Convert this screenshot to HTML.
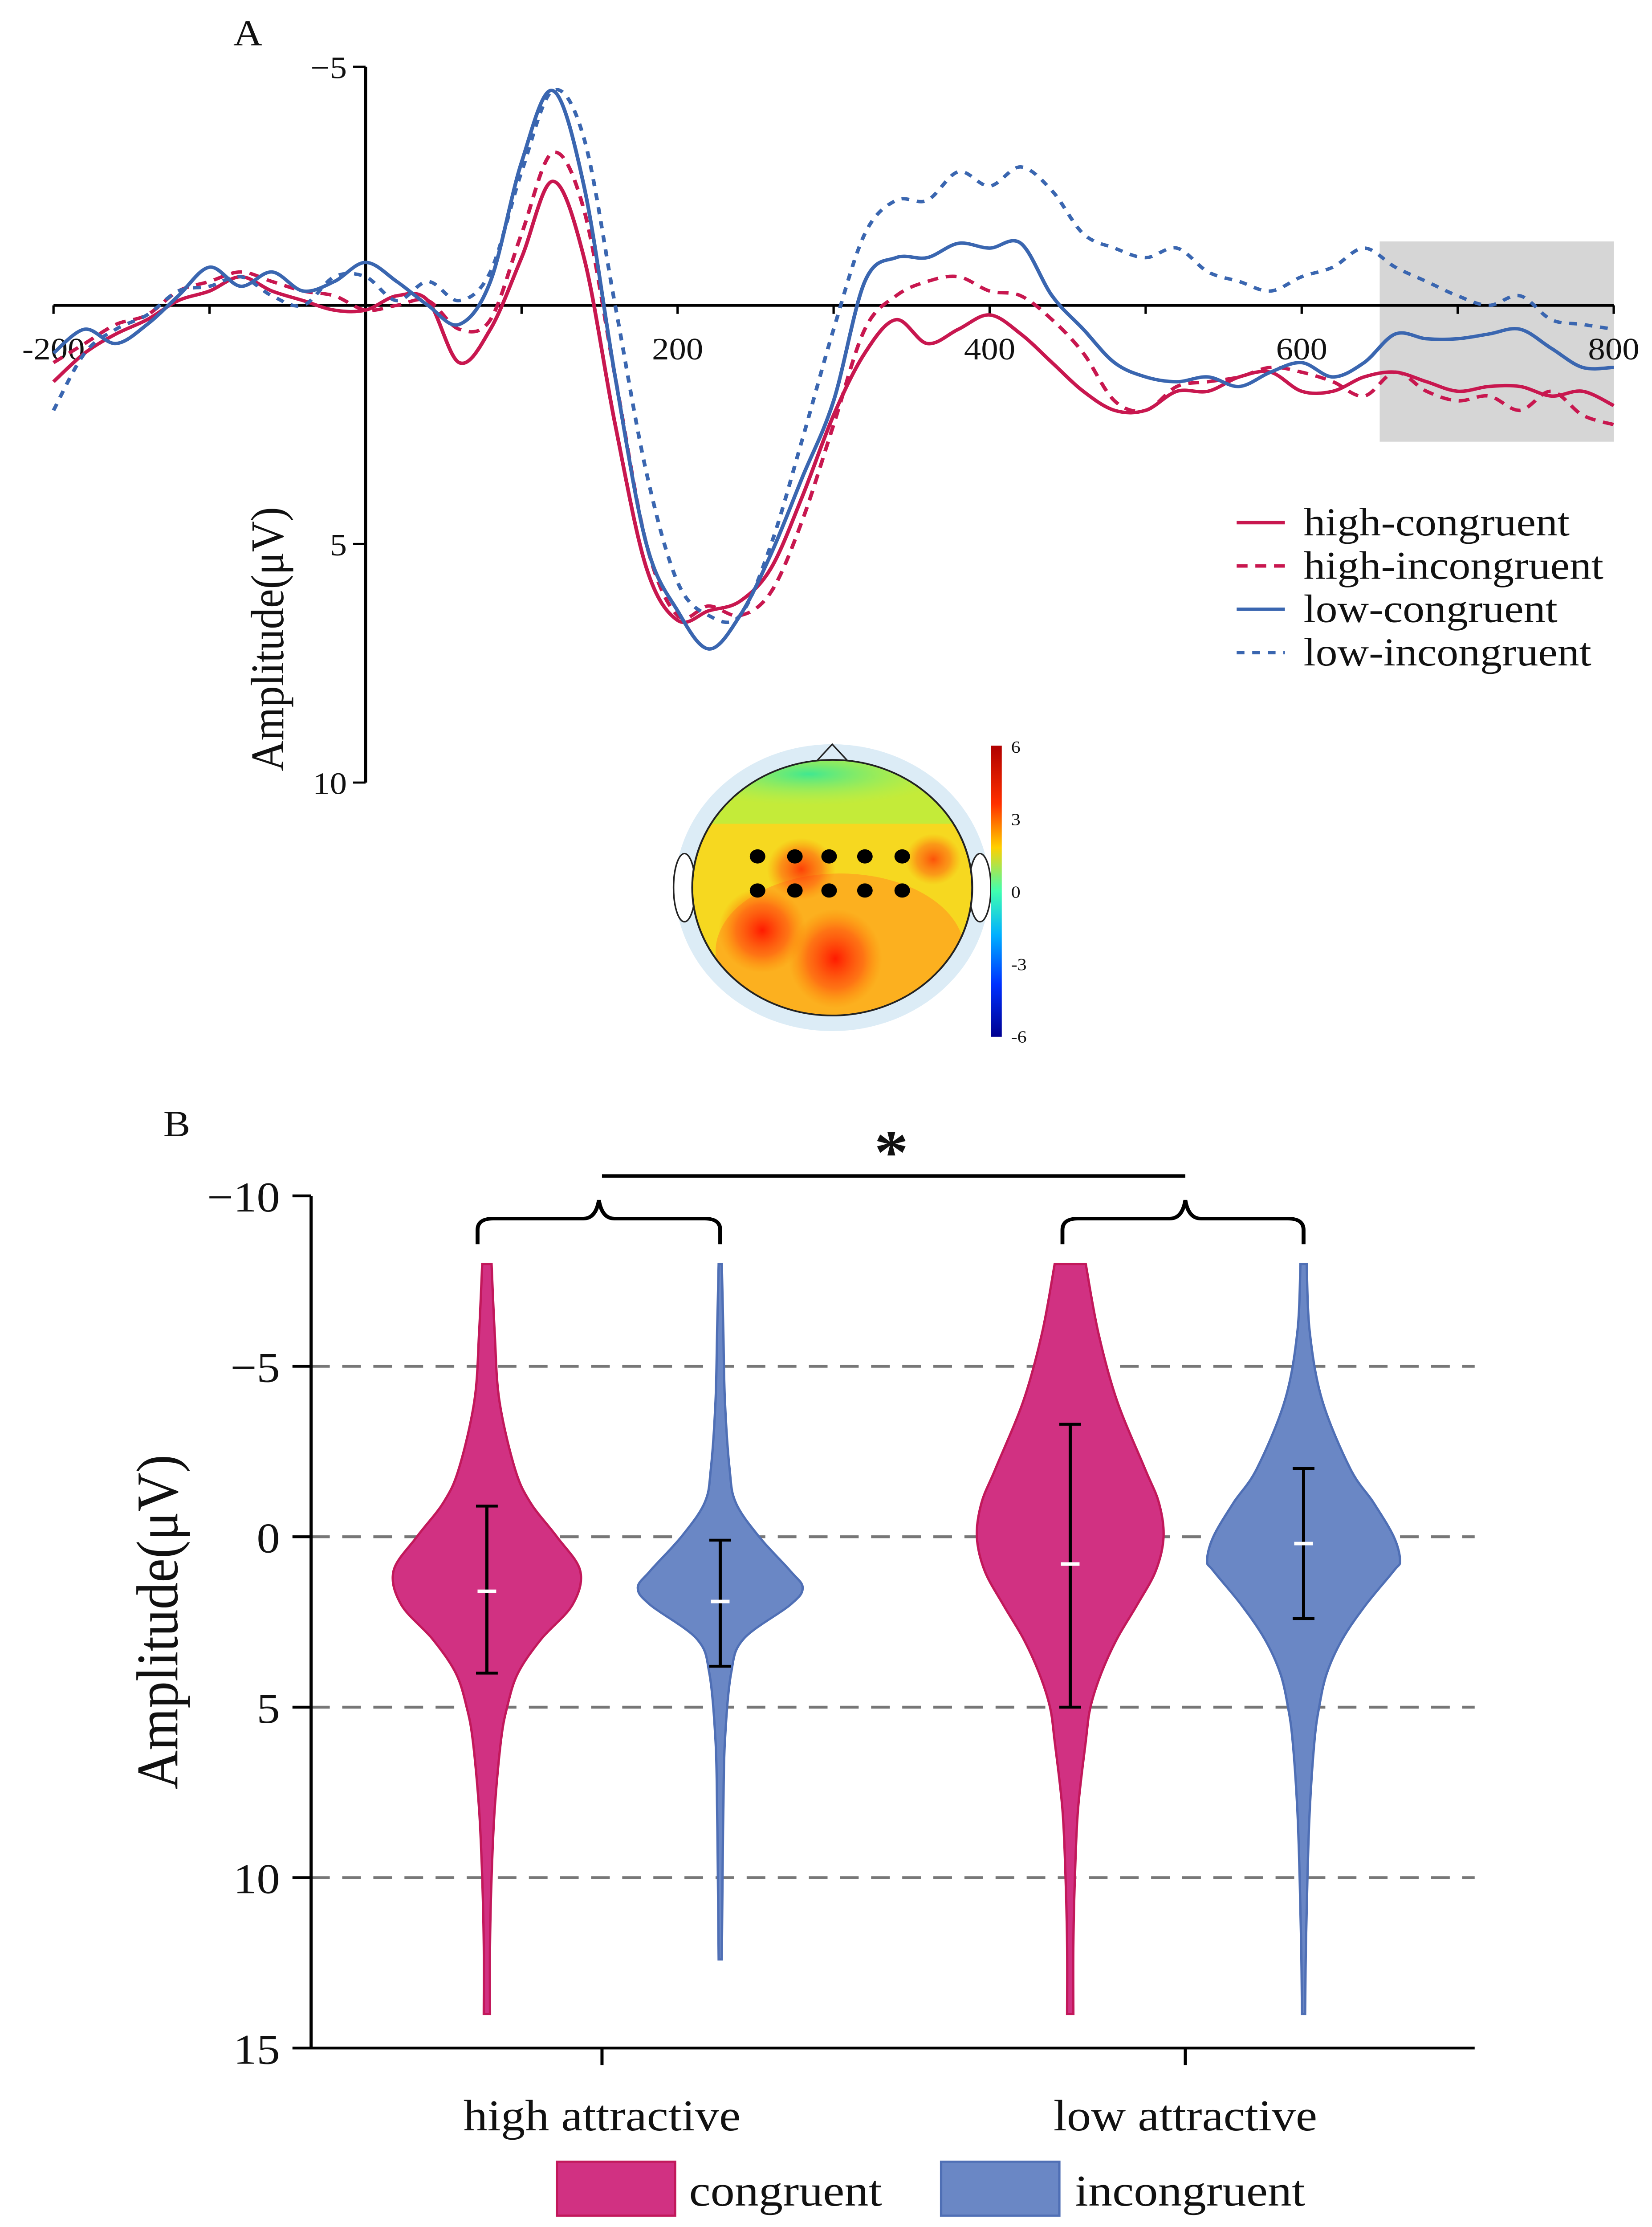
<!DOCTYPE html>
<html><head><meta charset="utf-8"><style>
html,body{margin:0;padding:0;background:#fff;width:100%;height:100%;overflow:hidden}
svg{display:block;position:absolute;left:0;top:0;width:100%;height:100%}
text{font-family:"Liberation Serif",serif;fill:#111}
</style></head><body>
<svg id="chart" width="100%" height="100%" preserveAspectRatio="none" viewBox="0 0 1062 1568" xmlns="http://www.w3.org/2000/svg">
<defs>
<linearGradient id="cbar" x1="0" y1="0" x2="0" y2="1">
<stop offset="0" stop-color="#b00000"/><stop offset="0.2" stop-color="#ff3000"/><stop offset="0.35" stop-color="#ffd000"/>
<stop offset="0.5" stop-color="#40ffb0"/><stop offset="0.65" stop-color="#00b0ff"/><stop offset="0.82" stop-color="#0030ff"/><stop offset="1" stop-color="#000090"/>
</linearGradient>
<radialGradient id="blob"><stop offset="0" stop-color="#ff1a00"/><stop offset="0.6" stop-color="#ff5a10" stop-opacity="0.7"/><stop offset="1" stop-color="#ff8000" stop-opacity="0"/></radialGradient>
<radialGradient id="gblob"><stop offset="0" stop-color="#40e890"/><stop offset="1" stop-color="#a0f060" stop-opacity="0"/></radialGradient>
<clipPath id="headclip"><circle cx="535" cy="625" r="90"/></clipPath>
</defs>
<text x="150" y="32" font-size="26">A</text>
<text x="105" y="800" font-size="26">B</text>
<g id="panelA"></g>
<g id="topo">
<circle cx="535" cy="625" r="101" fill="#dcecf6"/>
<ellipse cx="440" cy="625" rx="7" ry="24" fill="#fff" stroke="#222"/>
<ellipse cx="630" cy="625" rx="7" ry="24" fill="#fff" stroke="#222"/>
<path d="M524 537 L535 524 L546 537" fill="none" stroke="#222"/>
<g clip-path="url(#headclip)">
<rect x="440" y="530" width="190" height="190" fill="#f6d820"/>
<rect x="440" y="530" width="190" height="50" fill="#b8f040" opacity="0.8"/>
<ellipse cx="520" cy="545" rx="90" ry="22" fill="url(#gblob)"/>
<ellipse cx="540" cy="670" rx="80" ry="55" fill="#ffa020" opacity="0.7"/>
<ellipse cx="490" cy="655" rx="28" ry="30" fill="url(#blob)"/>
<ellipse cx="537" cy="675" rx="30" ry="35" fill="url(#blob)"/>
<ellipse cx="515" cy="612" rx="22" ry="22" fill="url(#blob)" opacity="0.8"/>
<ellipse cx="600" cy="605" rx="18" ry="18" fill="url(#blob)" opacity="0.7"/>
</g>
<circle cx="535" cy="625" r="90" fill="none" stroke="#222" stroke-width="1.2"/>
<rect x="637" y="525" width="7" height="205" fill="url(#cbar)"/>
<text x="650" y="530" font-size="12">6</text><text x="650" y="581" font-size="12">3</text><text x="650" y="632" font-size="12">0</text><text x="650" y="683" font-size="12">-3</text><text x="650" y="734" font-size="12">-6</text>
</g>
<g id="panelB"></g>
</svg>
<script>
// ---------- Panel A data ----------
const times=[-200,-180,-160,-140,-120,-100,-80,-60,-40,-20,0,20,40,60,80,100,120,140,160,180,200,220,240,260,280,300,320,340,360,380,400,420,440,460,480,500,520,540,560,580,600,620,640,660,680,700,720,740,760,780,800];
const highCongruent=[1.6,1.0,0.6,0.3,-0.1,-0.3,-0.6,-0.3,-0.1,0.1,0.1,-0.2,-0.1,1.2,0.5,-1.0,-2.6,-1.0,2.5,5.5,6.6,6.4,6.2,5.5,4.0,2.3,1.0,0.3,0.8,0.5,0.2,0.6,1.2,1.8,2.2,2.2,1.8,1.8,1.5,1.4,1.8,1.8,1.5,1.4,1.6,1.8,1.7,1.7,1.9,1.8,2.1];
const highIncongruent=[1.2,0.8,0.4,0.2,-0.3,-0.5,-0.7,-0.5,-0.3,-0.2,0.1,0,-0.1,0.5,0.3,-1.5,-3.2,-2.0,1.5,5.0,6.5,6.3,6.5,6.0,4.5,2.5,0.5,-0.2,-0.5,-0.6,-0.3,-0.2,0.3,1.0,2.0,2.2,1.7,1.6,1.5,1.3,1.4,1.6,1.9,1.4,1.8,2.0,1.9,2.2,1.8,2.3,2.5];
const lowCongruent=[1.0,0.5,0.8,0.4,-0.2,-0.8,-0.4,-0.7,-0.3,-0.5,-0.9,-0.5,0,0.4,-0.5,-3.0,-4.5,-2.5,1.5,5.0,6.4,7.2,6.5,5.2,3.6,2.0,-0.5,-1.0,-1.0,-1.3,-1.2,-1.3,-0.2,0.5,1.2,1.5,1.6,1.5,1.7,1.4,1.2,1.5,1.2,0.6,0.7,0.7,0.6,0.5,0.9,1.3,1.3];
const lowIncongruent=[2.2,1.0,0.5,0.2,-0.3,-0.4,-0.6,-0.2,0,-0.6,-0.6,-0.1,-0.5,-0.1,-0.7,-2.8,-4.5,-3.5,0,3.5,5.8,6.5,6.5,5.0,2.8,0.5,-1.5,-2.2,-2.2,-2.8,-2.5,-2.9,-2.4,-1.5,-1.2,-1.0,-1.2,-0.7,-0.5,-0.3,-0.6,-0.8,-1.2,-0.8,-0.5,-0.2,0,-0.2,0.3,0.4,0.5];
const xTicksA=[-200,200,400,600,800];
const yTicksA=[-5,5,10];
const seriesNames=["high-congruent","high-incongruent","low-congruent","low-incongruent"];
// ---------- Panel B data ----------
const groups=["high attractive","low attractive"];
const yTicksB=[-10,-5,0,5,10,15];
const gridB=[-5,0,5,10];
const vLevels=[[-8,-6,-4,-2,-1,0,1,2,3,4,5,6,8,10,12,14],[-8,-6,-4,-2,-1,0,1,1.5,2,3,4,6,8,10,12.4],[-8,-6,-4,-2,-1,0,1,2,3,4,5,6,8,10,12,14],[-8,-6,-4,-2,-1,0,0.7,1,2,3,4,5,6,8,10,12,14]];
const vWidths=[[3,5,8,18,28,45,60,55,35,20,13,9,5,3,2,2],[1,2,3,6,10,25,45,53,45,15,7,3,2,1.5,1],[10,18,30,48,57,60,55,43,30,20,13,10,5,3,2,2],[2,4,12,30,45,58,62,58,40,25,15,10,7,4,2.5,1.5,1]];
const vMeans=[1.6,1.9,0.8,0.2];
const vLow=[-0.9,0.1,-3.3,-2.0];
const vHigh=[4.0,3.8,5.0,2.4];

const NS="http://www.w3.org/2000/svg";
function mk(tag,attrs,parent){const e=document.createElementNS(NS,tag);for(const k in attrs)e.setAttribute(k,attrs[k]);parent.appendChild(e);return e;}
function smooth(pts){let d="M"+pts[0][0]+" "+pts[0][1];for(let i=0;i<pts.length-1;i++){const p0=pts[Math.max(0,i-1)],p1=pts[i],p2=pts[i+1],p3=pts[Math.min(pts.length-1,i+2)];const c1=[p1[0]+(p2[0]-p0[0])/6,p1[1]+(p2[1]-p0[1])/6],c2=[p2[0]-(p3[0]-p1[0])/6,p2[1]-(p3[1]-p1[1])/6];d+=` C${c1[0]} ${c1[1]} ${c2[0]} ${c2[1]} ${p2[0]} ${p2[1]}`;}return d;}

// Panel A
const A=document.getElementById('panelA');
const xA=t=>235+(t)*1.003, yA=v=>215+v*33.6;
let r=mk('rect',{x:xA(650),y:170,width:xA(800)-xA(650),height:141,fill:'#d6d6d6'},A);


let ax=mk('line',{x1:xA(-200),x2:xA(800),y1:yA(0),y2:yA(0),stroke:'#000','stroke-width':2},A);


let ay=mk('line',{x1:xA(0),x2:xA(0),y1:yA(-5),y2:yA(10),stroke:'#000','stroke-width':2},A);


for(const t of [-200,-100,0,100,200,300,400,500,600,700,800]){mk('line',{x1:xA(t),x2:xA(t),y1:yA(0),y2:yA(0)+6,stroke:'#000','stroke-width':1.5},A);}
xTicksA.forEach(t=>{const e=mk('text',{x:xA(t),y:yA(0)+38,'font-size':22,'text-anchor':'middle'},A);e.textContent=t<0?'-'+Math.abs(t):t;

});
yTicksA.forEach(v=>{mk('line',{x1:xA(0)-8,x2:xA(0),y1:yA(v),y2:yA(v),stroke:'#000','stroke-width':1.5},A);const e=mk('text',{x:xA(0)-12,y:yA(v)+8,'font-size':22,'text-anchor':'end'},A);e.textContent=v<0?'\u2212'+Math.abs(v):v;

});
let yt=mk('text',{x:0,y:0,'font-size':30,'text-anchor':'middle',transform:`translate(182,450) rotate(-90)`},A);yt.textContent='Amplitude(\u03bcV)';


const series=[highCongruent,highIncongruent,lowCongruent,lowIncongruent];
const cols=['#c8174f','#c8174f','#3a66b0','#3a66b0'], dash=['','7,5','','5,5'];
series.forEach((s,i)=>{const p=mk('path',{d:smooth(times.map((t,j)=>[xA(t),yA(s[j])])),fill:'none',stroke:cols[i],'stroke-width':2.4,'stroke-dasharray':dash[i]},A);


const ly=368+i*30.5;mk('line',{x1:795,x2:826,y1:ly,y2:ly,stroke:cols[i],'stroke-width':2.4,'stroke-dasharray':dash[i]},A);
const t=mk('text',{x:838,y:ly+9,'font-size':28},A);t.textContent=seriesNames[i];

});
// electrodes
const T=document.getElementById('topo');
[603,627].forEach(cy=>[487,511,533,556,580].forEach(cx=>{const c=mk('circle',{cx,cy,r:5,fill:'#000'},T);

}));

// Panel B
const B=document.getElementById('panelB');
const yB=v=>1082+v*24;
const centers=[313,463,688,838], gx=[387,762];
gridB.forEach(v=>{const g=mk('line',{x1:200,x2:948,y1:yB(v),y2:yB(v),stroke:'#777','stroke-width':2,'stroke-dasharray':'12,8'},B);

});
let bx=mk('line',{x1:200,x2:948,y1:yB(15),y2:yB(15),stroke:'#000','stroke-width':2},B);


let by=mk('line',{x1:200,x2:200,y1:yB(-10),y2:yB(15),stroke:'#000','stroke-width':2},B);


yTicksB.forEach(v=>{mk('line',{x1:188,x2:200,y1:yB(v),y2:yB(v),stroke:'#000','stroke-width':2},B);const e=mk('text',{x:180,y:yB(v)+11,'font-size':30,'text-anchor':'end'},B);e.textContent=v<0?'\u2212'+Math.abs(v):v;

});
groups.forEach((g,i)=>{mk('line',{x1:gx[i],x2:gx[i],y1:yB(15),y2:yB(15)+12,stroke:'#000','stroke-width':2},B);const e=mk('text',{x:gx[i],y:1500,'font-size':31,'text-anchor':'middle'},B);e.textContent=g;

});
let yt2=mk('text',{x:0,y:0,'font-size':38,'text-anchor':'middle',transform:'translate(114,1142) rotate(-90)'},B);yt2.textContent='Amplitude(\u03bcV)';


const vfill=['#d13182','#6a87c5','#d13182','#6a87c5'], vstroke=['#c2185b','#4f6fb5','#c2185b','#4f6fb5'];
centers.forEach((c,i)=>{const L=vLevels[i],W=vWidths[i];const right=L.map((v,j)=>[c+W[j],yB(v)]),left=L.map((v,j)=>[c-W[j],yB(v)]).reverse();
let d=smooth(right)+' L'+left[0][0]+' '+left[0][1]+smooth(left).replace(/^M[^C]*/,'')+'Z';
const p=mk('path',{d,fill:vfill[i],stroke:vstroke[i],'stroke-width':1.5},B);


mk('line',{x1:c,x2:c,y1:yB(vLow[i]),y2:yB(vHigh[i]),stroke:'#000','stroke-width':2},B);
[vLow[i],vHigh[i]].forEach(v=>mk('line',{x1:c-7,x2:c+7,y1:yB(v),y2:yB(v),stroke:'#000','stroke-width':2},B));
const m=mk('line',{x1:c-6,x2:c+6,y1:yB(vMeans[i]),y2:yB(vMeans[i]),stroke:'#fff','stroke-width':2.5},B);

});
// braces
[[307,463,385],[683,838,762]].forEach(([a,b,m])=>{const p=mk('path',{d:`M${a} 876 L${a} 866 Q${a} 858 ${a+10} 858 L${m-10} 858 Q${m-2} 858 ${m} 845 Q${m+2} 858 ${m+10} 858 L${b-10} 858 Q${b} 858 ${b} 866 L${b} 876`,fill:'none',stroke:'#000','stroke-width':2.5},B);

});
let sl=mk('line',{x1:387,x2:762,y1:828,y2:828,stroke:'#000','stroke-width':2.5},B);


let st=mk('text',{x:573,y:826,'font-size':44,'text-anchor':'middle','font-weight':'bold'},B);st.textContent='*';


[['congruent',358,443,'#d13182','#c2185b'],['incongruent',605,691,'#6a87c5','#4f6fb5']].forEach(([n,rx,tx,f,s])=>{const rr=mk('rect',{x:rx,y:1522,width:76,height:38,fill:f,stroke:s,'stroke-width':1.5},B);


const t=mk('text',{x:tx,y:1553,'font-size':31},B);t.textContent=n;

});
</script>
</body></html>
